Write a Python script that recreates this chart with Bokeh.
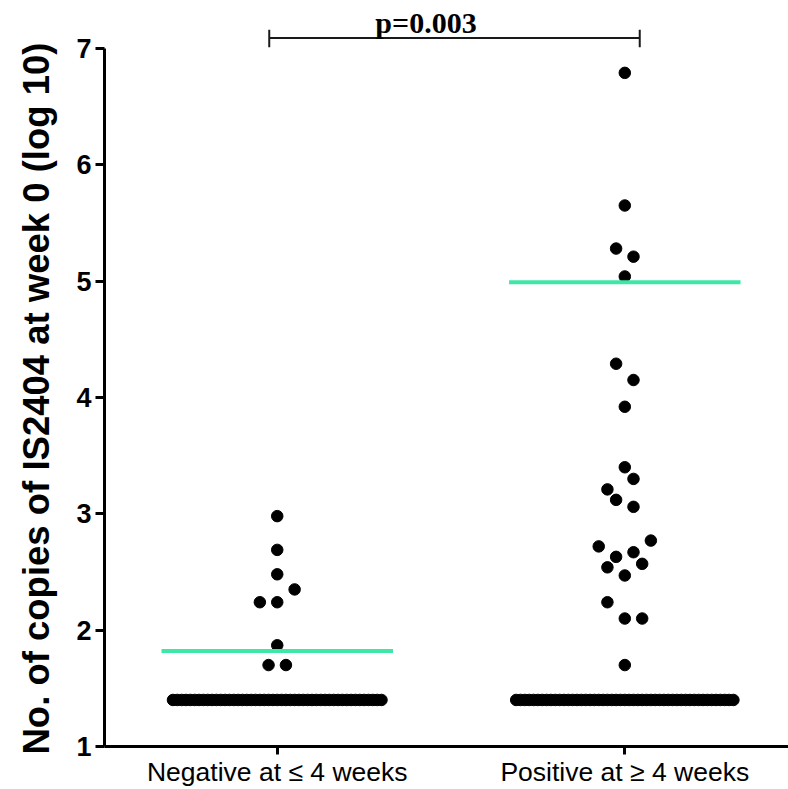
import numpy as np
from bokeh.plotting import figure
from bokeh.models import Range1d, FixedTicker, ColumnDataSource, Title
from bokeh.core.properties import value
from bokeh.embed import file_html
from bokeh.resources import INLINE

# ---------------- data ----------------
categories = ["Negative at \u2264 4 weeks", "Positive at \u2265 4 weeks"]
y_ticks = [1, 2, 3, 4, 5, 6, 7]
y_label = "No. of copies of IS2404 at week 0 (log 10)"

floor_value = 1.4  # detection floor (log10)
neg_values = [2.98, 2.69, 2.48, 2.35, 2.24, 2.24, 1.87, 1.70, 1.70]
neg_floor_count = 49
pos_values = [6.79, 5.65, 5.28, 5.21, 5.04, 4.29, 4.15, 3.92, 3.40, 3.30,
              3.21, 3.12, 3.06, 2.77, 2.72, 2.67, 2.63, 2.57, 2.54, 2.47,
              2.24, 2.10, 2.10, 1.70]
pos_floor_count = 51
group_means = [1.82, 4.99]
p_value_text = "p=0.003"

# ---------------- layout (scatter slots, not data) ----------------
neg_slots = [0, 0, 0, 2, -2, 0, 0, -1, 1]
pos_slots = [0, 0, -1, 1, 0, -1, 1, 0, 0, 1, -2, -1, 1, 3, -3, 1, -1, 2, -2, 0,
             -2, 0, 2, 0]
SLOT = 0.025
FLOOR_STEP = 0.0125

xs, ys = [], []
for gi, (vals, slots, nfloor) in enumerate([(neg_values, neg_slots, neg_floor_count),
                                            (pos_values, pos_slots, pos_floor_count)]):
    cx = gi + 1
    for v, s in zip(vals, slots):
        xs.append(cx + s * SLOT)
        ys.append(v)
    for i in range(nfloor):
        xs.append(cx + (i - (nfloor - 1) / 2) * FLOOR_STEP)
        ys.append(floor_value)

src = ColumnDataSource(dict(x=xs, y=ys))

X0, X1 = 0.503, 2.471
p = figure(width=788, height=789, output_backend="svg", toolbar_location=None,
           x_range=Range1d(X0, X1), y_range=Range1d(1, 7.412),
           min_border_left=103, min_border_right=0, min_border_top=0,
           min_border_bottom=42)
p.outline_line_color = None
p.grid.visible = False
p.background_fill_color = "white"
p.border_fill_color = "white"

# points
p.scatter("x", "y", source=src, size=11.5, color="black")

# mean lines
p.segment(x0=[c + 1 - 0.333 for c in range(2)], x1=[c + 1 + 0.333 for c in range(2)],
          y0=group_means, y1=group_means, line_color="#3DE8A6", line_width=4)

# significance bracket
bx0, bx1, by, byl, byh = 0.977, 2.043, 7.09, 7.01, 7.16
p.segment(x0=[bx0, bx0, bx1], x1=[bx1, bx0, bx1], y0=[by, byl, byl], y1=[by, byh, byh],
          line_color="#1a1a1a", line_width=2)
p.text(x=[1.428], y=[7.219], text=[p_value_text], text_font=value("Liberation Serif"),
       text_font_style="bold", text_font_size="30px", text_align="center",
       text_baseline="middle", text_color="black")

# y axis
ya = p.yaxis[0]
ya.bounds = (1, 7)
ya.ticker = FixedTicker(ticks=y_ticks)
ya.axis_line_width = 3
ya.axis_line_color = "black"
ya.major_tick_line_width = 3
ya.major_tick_line_color = "black"
ya.major_tick_out = 9
ya.major_tick_in = 0
ya.minor_tick_line_color = None
ya.major_label_text_font = "Liberation Sans"
ya.major_label_text_font_style = "bold"
ya.major_label_text_font_size = "27px"
ya.major_label_text_color = "black"
ya.major_label_standoff = 4

# y axis title, placed as a side title so it can sit on the 1..7 span
ytitle = Title(text=y_label, align="left", offset=-8, vertical_align="top",
               standoff=30, text_font="Liberation Sans", text_font_style="bold",
               text_font_size="36.5px", text_color="black")
p.add_layout(ytitle, "left")

# x axis
xa = p.xaxis[0]
xa.ticker = FixedTicker(ticks=[1, 2])
xa.major_label_overrides = {1: categories[0], 2: categories[1]}
xa.axis_line_width = 3
xa.axis_line_color = "black"
xa.major_tick_line_width = 3
xa.major_tick_line_color = "black"
xa.major_tick_out = 8
xa.major_tick_in = 0
xa.minor_tick_line_color = None
xa.major_label_text_font = "Liberation Sans"
xa.major_label_text_font_size = "26.5px"
xa.major_label_text_color = "black"
xa.major_label_standoff = 2

open("out.html", "w").write(file_html(p, INLINE))
